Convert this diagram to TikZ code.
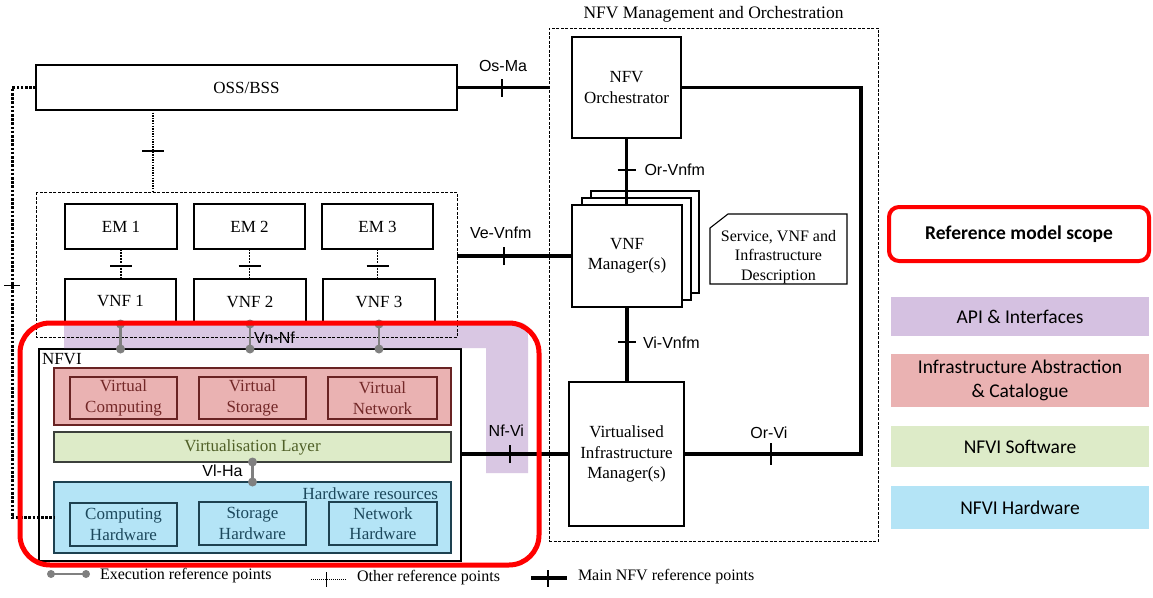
\documentclass[tikz,border=0pt]{standalone}
\usepackage{fontspec}
\setmainfont{Liberation Serif}
\newfontfamily\arialf{Liberation Sans}
\newfontfamily\calib{Carlito}
\usetikzlibrary{decorations.markings,calc}
\definecolor{apicol}{RGB}{213,193,225}
\definecolor{virtfill}{RGB}{234,178,178}
\definecolor{virtdraw}{RGB}{105,35,35}
\definecolor{virttext}{RGB}{115,40,40}
\definecolor{swfill}{RGB}{221,235,200}
\definecolor{swdraw}{RGB}{60,64,60}
\definecolor{swtext}{RGB}{80,96,40}
\definecolor{hwfill}{RGB}{180,228,246}
\definecolor{hwdraw}{RGB}{30,65,80}
\definecolor{hwtext}{RGB}{28,72,92}
\definecolor{execgray}{RGB}{128,128,128}
\definecolor{scopered}{RGB}{255,0,0}
\definecolor{darkapi}{RGB}{45,30,55}

\newcommand\mkbox[7][]{\node[bx,#1,minimum width={#4-#2},minimum height={#5-#3}] (#6) at ({(#2+#4)/2},{(#3+#5)/2}) {#7};}

\tikzset{
  every node/.style={inner sep=0pt,outer sep=0pt},
  bx/.style={draw,line width=1.1pt,fill=white,align=center,font=\fontsize{17}{20.5}\selectfont},
  dashbox/.style={draw,line width=0.9pt,dash pattern=on 3pt off 1.5pt},
  mainline/.style={line width=3.4pt,line join=miter},
  otherline/.style={line width=1.3pt,dash pattern=on 1.3pt off 1.3pt},
  emline/.style={line width=1.9pt,dash pattern=on 1.9pt off 1.2pt},
  thickdot/.style={line width=3pt,dash pattern=on 2.6pt off 1.6pt},
  exec/.style={line width=2.6pt,draw=execgray},
  lbl/.style={font=\arialf\fontsize{16}{19}\selectfont},
  tnr/.style={font=\fontsize{17}{20.5}\selectfont},
  legtxt/.style={font=\fontsize{16}{19}\selectfont,anchor=west},
  tickat/.style n args={3}{postaction={decorate,decoration={markings,mark=at position #1 with {\draw[solid,black,line width=#3] (0,-#2) -- (0,#2);}}}},
  legfont/.style={font=\calib\fontsize{19.5}{24}\selectfont},
}

\begin{document}
\begin{tikzpicture}[x=1pt,y=-1pt]
\useasboundingbox (0,0) rectangle (1153,597);
\fill[white] (0,0) rectangle (1153,597);

% MANO
\mkbox[dashbox,fill=none]{549}{28}{878}{541}{mano}{}
\node[font=\fontsize{17.5}{21}\selectfont,above=6pt] at (mano.north) {NFV Management and Orchestration};

% OSS and VNF group
\mkbox{36}{65}{457}{110}{oss}{OSS/BSS}
\mkbox[draw=none,fill=none]{36}{192}{457}{337}{grp}{}
\mkbox{65}{204}{177}{249}{em1}{EM 1}
\mkbox{194}{204}{305}{249}{em2}{EM 2}
\mkbox{322}{204}{433}{249}{em3}{EM 3}
\mkbox{65}{279}{176}{324}{vnf1}{VNF 1}
\mkbox{194}{279}{306}{324}{vnf2}{VNF 2}
\mkbox{323}{279}{435}{324}{vnf3}{VNF 3}

% NFVI
\mkbox{39}{349}{461}{561}{nfvi}{}
\node[tnr,anchor=north west] at ($(nfvi.north west)+(3,4)$) {NFVI};
\mkbox[fill=virtfill,draw=virtdraw]{54}{368}{451}{425}{virt}{}
\mkbox[fill=virtfill,draw=virtdraw,text=virttext]{70}{377}{177}{419}{vc}{Virtual\\Computing}
\mkbox[fill=virtfill,draw=virtdraw,text=virttext]{199}{377}{306}{419}{vs}{Virtual\\Storage}
\mkbox[fill=virtfill,draw=virtdraw,text=virttext]{328}{377}{437}{419}{vn}{Virtual\\Network}
\mkbox[fill=swfill,draw=swdraw,text=swtext]{54}{432}{451}{462}{vl}{Virtualisation Layer}
\mkbox[fill=hwfill,draw=hwdraw]{54}{482}{451}{553}{hw}{}
\node[tnr,text=hwtext,anchor=east] at ($(hw.north east)+(-13,12)$) {Hardware resources};
\mkbox[fill=hwfill,draw=hwdraw,text=hwtext]{70}{503}{177}{546}{ch}{Computing\\Hardware}
\mkbox[fill=hwfill,draw=hwdraw,text=hwtext]{199}{502}{306}{545}{sh}{Storage\\Hardware}
\mkbox[fill=hwfill,draw=hwdraw,text=hwtext]{329}{502}{437}{545}{nh}{Network\\Hardware}

% MANO content
\mkbox{572}{37}{681}{138}{nfvo}{NFV\\Orchestrator}
\mkbox{591}{191}{699}{293}{vnfmc}{}
\mkbox{582}{198}{691}{300}{vnfmb}{}
\mkbox{572}{205}{682}{307}{vnfm}{VNF\\Manager(s)}
\mkbox{569}{382}{684}{526}{vim}{Virtualised\\Infrastructure\\Manager(s)}
\mkbox[draw=none,fill=none]{710}{214}{847}{284}{desc}{}
\draw[line width=1.1pt] ($(desc.north west)+(0,14)$) -- ($(desc.north west)+(18,0)$) -- (desc.north east) -- (desc.south east) -- (desc.south west) -- cycle;
\node[align=center,font=\fontsize{16}{19.5}\selectfont] at ($(desc.center)+(0,8)$) {Service, VNF and\\Infrastructure\\Description};

% main reference points
\draw[mainline,tickat={45pt}{9pt}{1.3pt}] (oss.east) -- node[lbl,above=16pt]{Os-Ma} (oss.east -| mano.west);
\draw[mainline,tickat={47pt}{9pt}{1.3pt}] (vnfm.west -| grp.east) -- node[lbl,pos=0.38,above=17pt]{Ve-Vnfm} (vnfm.west);
\draw[mainline,tickat={32pt}{9pt}{1.3pt}] (nfvo.south) -- node[lbl,pos=0.48,right=18pt]{Or-Vnfm} (nfvo.south |- vnfm.north);
\draw[mainline,tickat={35pt}{9pt}{1.3pt}] (vnfm.south) -- node[lbl,pos=0.47,right=16pt]{Vi-Vnfm} (vnfm.south |- vim.north);
\path (vim.east) ++(177,0) coordinate (orvi);
\draw[mainline,tickat={636.5pt}{11pt}{1.3pt}] (nfvo.east) -| (orvi) -- (vim.east);
\node[lbl,above=15pt] at ($(orvi)!0.52!(vim.east)$) {Or-Vi};

% other reference points
\path (oss.south west) ++(117,0) coordinate (ossd);
\draw[otherline,tickat={41pt}{11pt}{2.4pt}] (ossd) -- (ossd |- grp.north);
\foreach \i in {1,2,3}{
  \draw[emline,tickat={17pt}{11pt}{2.4pt}] (em\i.south) -- (em\i.south |- vnf\i.north);
}
\draw[thickdot,tickat={221.5pt}{8pt}{1pt}] (oss.west) -- ++(-24,0) |- (hw.west);

% API band
\fill[apicol,fill opacity=0.9] (64,322) -- (508,322) .. controls (528,322) .. (528,342) -- (528,473) -- (486,473) -- (486,348) -- (64,348) -- cycle;
\draw[dashbox] (grp.north west) rectangle (grp.south east);

% Nf-Vi (over the API band)
\draw[mainline,tickat={49pt}{9pt}{1.3pt}] (vim.west -| nfvi.east) -- node[lbl,pos=0.42,above=18pt]{Nf-Vi} (vim.west);

% execution reference points
\foreach \i in {1,2,3}{
  \coordinate (xb\i) at (vnf\i.south |- nfvi.north);
  \draw[exec] (vnf\i.south) -- (xb\i);
  \fill[execgray] (vnf\i.south) circle[radius=4.5pt] (xb\i) circle[radius=4.5pt];
}
\node[lbl,anchor=west] at ($(vnf2.south)!0.55!(xb2)+(4,0)$) {Vn-Nf};
\draw[exec] (vl.south) -- (hw.north);
\fill[execgray] (vl.south) circle[radius=4.5pt] (hw.north) circle[radius=4.5pt];
\node[lbl,anchor=east] at ($(vl.south)!0.45!(hw.north)+(-10,0)$) {Vl-Ha};

% scope
\mkbox[draw=scopered,fill=none,line width=5pt,rounded corners=30pt]{20}{323}{539}{565}{scope}{}

% right legend
\mkbox[draw=scopered,line width=4pt,rounded corners=10pt,font=\calib\bfseries\fontsize{19.5}{24}\selectfont]{889}{207}{1149}{261}{lscope}{Reference model scope}
\mkbox[draw=none,fill=apicol,legfont]{891}{297}{1149}{336}{lapi}{API \& Interfaces}
\mkbox[draw=none,fill=virtfill,legfont]{891}{354}{1149}{407}{labs}{Infrastructure Abstraction\\\& Catalogue}
\mkbox[draw=none,fill=swfill,legfont]{891}{426}{1149}{467}{lsw}{NFVI Software}
\mkbox[draw=none,fill=hwfill,legfont]{891}{486}{1149}{529}{lhw}{NFVI Hardware}

% bottom legend
\coordinate (le1) at (51,574); \coordinate (le2) at (86,574);
\draw[exec] (le1) -- (le2);
\fill[execgray] (le1) circle[radius=4pt] (le2) circle[radius=4pt];
\node[legtxt] (lext) at (100,576) {Execution reference points};
\coordinate (lo1) at (311,579); \coordinate (lo2) at (346,579);
\draw[otherline,line width=0.8pt,dash pattern=on 1pt off 1pt,tickat={15pt}{7.5pt}{1pt}] (lo1) -- (lo2);
\node[legtxt] (lott) at (357,578) {Other reference points};
\coordinate (lm1) at (531,578); \coordinate (lm2) at (567,578);
\draw[mainline,tickat={17pt}{8.5pt}{1.3pt}] (lm1) -- (lm2);
\node[legtxt] (lmt) at (578,577) {Main NFV reference points};
\end{tikzpicture}
\end{document}
